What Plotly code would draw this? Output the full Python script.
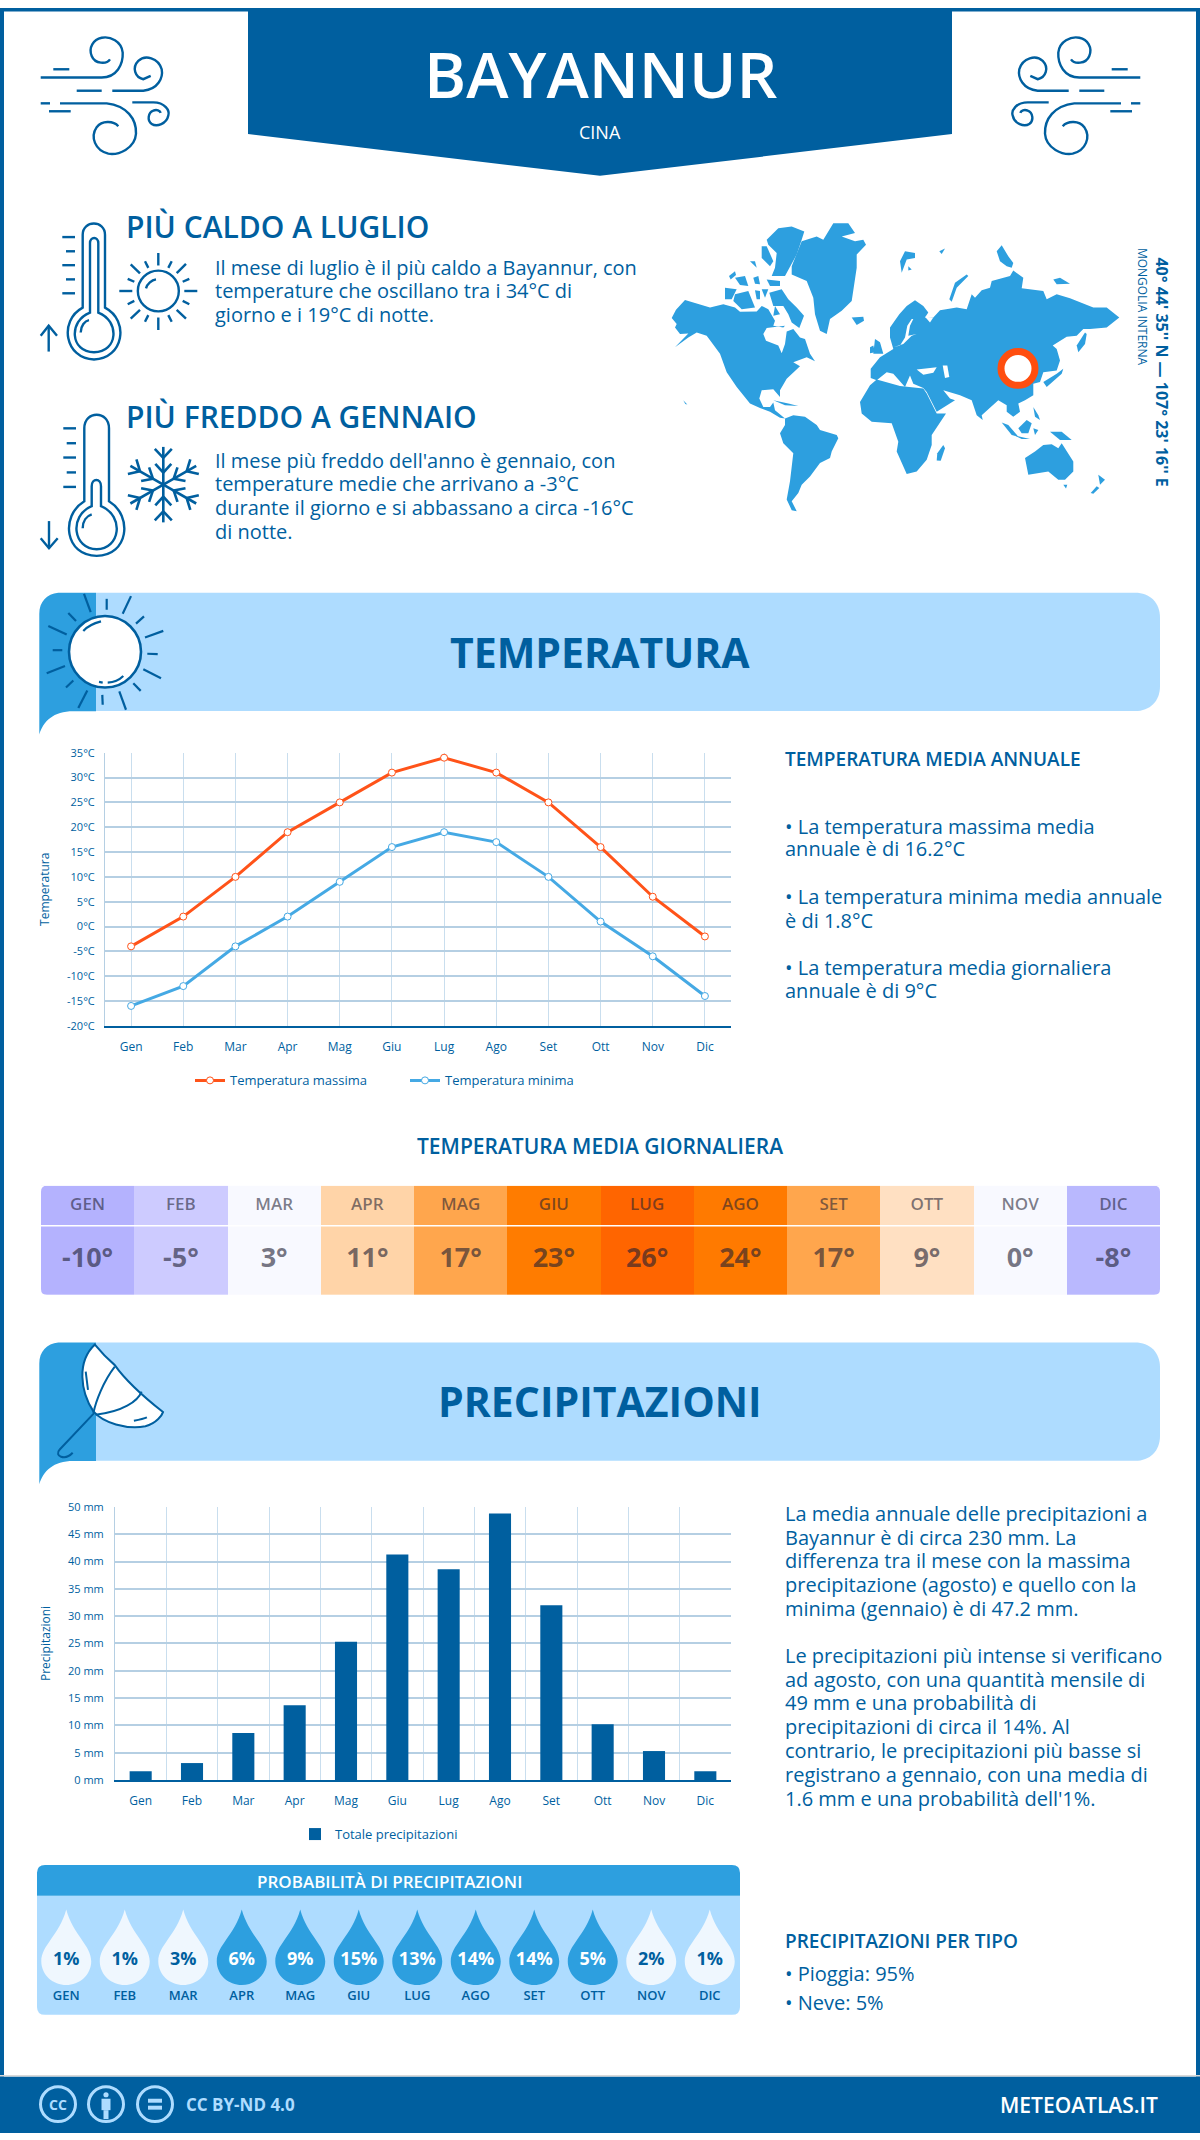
import math
import plotly.graph_objects as go

# ---------- data ----------
months = ["Gen", "Feb", "Mar", "Apr", "Mag", "Giu", "Lug", "Ago", "Set", "Ott", "Nov", "Dic"]
months_upper = ["GEN", "FEB", "MAR", "APR", "MAG", "GIU", "LUG", "AGO", "SET", "OTT", "NOV", "DIC"]
temp_max = [-4, 2, 10, 19, 25, 31, 34, 31, 25, 16, 6, -2]
temp_min = [-16, -12, -4, 2, 9, 16, 19, 17, 10, 1, -6, -14]
temp_avg = [-10, -5, 3, 11, 17, 23, 26, 24, 17, 9, 0, -8]
precip = [1.6, 3.1, 8.6, 13.7, 25.3, 41.3, 38.6, 48.8, 32.0, 10.2, 5.3, 1.6]
precip_prob = [1, 1, 3, 6, 9, 15, 13, 14, 14, 5, 2, 1]
temp_ticks = [-20, -15, -10, -5, 0, 5, 10, 15, 20, 25, 30, 35]
temp_tick_labels = ["-20°C", "-15°C", "-10°C", "-5°C", "0°C", "5°C", "10°C", "15°C", "20°C", "25°C", "30°C", "35°C"]
precip_ticks = [0, 5, 10, 15, 20, 25, 30, 35, 40, 45, 50]
precip_tick_labels = ["0 mm", "5 mm", "10 mm", "15 mm", "20 mm", "25 mm", "30 mm", "35 mm", "40 mm", "45 mm", "50 mm"]
avg_scale_values = [-10, -8, -5, 0, 3, 9, 11, 17, 23, 24, 26]
avg_scale_colors = ["#b4b2fe", "#b9b8fe", "#cdcbff", "#f8f9ff", "#f8f9ff", "#ffe0c2", "#ffd4a8",
                    "#ffa64d", "#ff7c00", "#ff7a00", "#ff6500"]

BLUE = "#005f9f"
MID = "#2d9fdf"
LIGHT = "#aedcff"
W, H = 1200, 2140
FONT = "Open Sans"

shapes, annos = [], []


def rect(x0, y0, x1, y1, color, layer="below"):
    shapes.append(dict(type="rect", xref="x", yref="y", x0=x0, y0=y0, x1=x1, y1=y1,
                       fillcolor=color, line=dict(width=0), layer=layer))


def path(d, fill=None, stroke=None, width=2.4, layer="above"):
    s = dict(type="path", xref="x", yref="y", path=d, layer=layer)
    s["fillcolor"] = fill if fill else "rgba(0,0,0,0)"
    s["line"] = dict(color=stroke, width=width) if stroke else dict(width=0)
    shapes.append(s)


def circle(cx, cy, r, fill=None, stroke=None, width=2.4, layer="above"):
    s = dict(type="circle", xref="x", yref="y", x0=cx - r, x1=cx + r, y0=cy - r, y1=cy + r, layer=layer)
    s["fillcolor"] = fill if fill else "rgba(0,0,0,0)"
    s["line"] = dict(color=stroke, width=width) if stroke else dict(width=0)
    shapes.append(s)


def text(x, base, s, size, color=BLUE, weight=400, anchor="left", angle=0):
    dy = 0.36 * size if angle == 0 else 0
    annos.append(dict(xref="x", yref="y", x=x, y=base - dy, text=s, showarrow=False, xanchor=anchor,
                      yanchor="middle", textangle=angle, borderpad=0, borderwidth=0,
                      font=dict(family=FONT, size=size, color=color, weight=weight)))


def zpath(ox, oy, sx, sy, d):
    """transform an SVG path written in crop coordinates into page coordinates"""
    out, pair = [], 0
    for tok in d.replace(",", " ").split():
        if tok.isalpha():
            out.append(tok)
            pair = 0
        else:
            v = float(tok)
            out.append(f"{ox + v / sx:.1f}" if pair % 2 == 0 else f"{oy + v / sy:.1f}")
            pair += 1
    return " ".join(out)


# ---------- frame and header ----------
rect(0, 0, 4, H, BLUE)
rect(W - 4, 0, W, H, BLUE)
rect(0, 0, W, 3.5, BLUE)
path("M 248 0 L 952 0 L 952 127 L 600 169 L 248 127 Z", fill=BLUE, layer="below")
text(600, 89, "BAYANNUR", 64, "white", 600, "center")
text(600, 131, "CINA", 18, "white", 400, "center")

wind = [
    "M 32 150 L 215 150 C 260 150 280 110 278 75 C 275 40 240 25 215 30 C 190 35 175 60 185 85 C 195 110 230 110 240 95",
    "M 70 125 L 118 125", "M 140 190 L 215 190",
    "M 247 190 L 340 190 C 385 185 400 150 395 125 C 385 90 345 80 325 100 C 305 120 315 150 340 155 L 362 145",
    "M 32 228 L 60 228",
    "M 90 228 L 230 228 C 290 235 320 275 318 320 C 315 365 265 385 235 380 C 195 370 180 330 200 300 C 215 280 250 280 265 297",
    "M 57 252 L 122 252",
    "M 307 225 L 370 225 C 405 225 420 250 415 265 C 410 290 380 300 365 290 C 350 280 355 255 370 250 C 380 245 390 250 392 257",
]
for d in wind:
    path(zpath(30, 20, 3, 3, d), stroke=BLUE)
    path(zpath(1151, 20, -3, 3, d), stroke=BLUE)

# ---------- hot / cold blocks ----------
hot = [
    "M 158 290 L 158 70 C 158 25 225 25 225 70 L 225 290 C 300 330 280 445 192 447 C 105 445 85 330 158 290 Z",
    "M 180 305 L 180 95 C 180 75 205 75 205 95 L 205 305 C 270 330 265 425 192 425 C 120 425 115 330 180 305 Z",
    "M 152 365 C 152 345 165 330 177 328",
    "M 97 77 L 135 77", "M 108 120 L 135 120", "M 97 162 L 135 162", "M 108 205 L 135 205", "M 97 247 L 135 247",
    "M 56 423 L 56 345", "M 32 375 L 56 345 L 81 375",
    "M 385 125 L 385 163", "M 385 320 L 385 358", "M 268 240 L 307 240", "M 463 240 L 502 240",
    "M 302 160 L 330 187", "M 468 158 L 440 186", "M 302 323 L 330 297", "M 468 323 L 440 297",
    "M 345 150 L 355 170", "M 425 150 L 415 170", "M 293 203 L 313 212", "M 478 203 L 458 212",
    "M 293 280 L 313 270", "M 478 280 L 458 270", "M 345 333 L 355 313", "M 425 333 L 415 313",
    "M 348 232 C 352 218 365 207 378 205",
]
for d in hot:
    path(zpath(30, 205, 3, 3, d), stroke=BLUE)
circle(30 + 385 / 3, 205 + 240 / 3, 20.5, stroke=BLUE)

cold = [
    "M 163 290 L 163 70 C 163 15 237 15 237 70 L 237 290 C 310 335 295 455 200 455 C 105 455 90 335 163 290 Z",
    "M 185 305 L 185 245 C 185 220 213 220 213 245 L 213 305 C 285 335 270 435 200 435 C 130 435 115 335 185 305 Z",
    "M 158 372 C 158 350 170 335 185 330",
    "M 100 70 L 138 70", "M 110 115 L 138 115", "M 100 158 L 138 158", "M 110 203 L 138 203", "M 100 247 L 138 247",
    "M 57 350 L 57 432", "M 32 402 L 57 432 L 83 402",
]
for d in cold:
    path(zpath(30, 400, 3, 3, d), stroke=BLUE)
fx, fy = 30 + 400 / 3, 400 + 240 / 3
for k in range(6):
    a = math.radians(90 + 60 * k)
    ux, uy = math.cos(a), -math.sin(a)
    vx, vy = -uy, ux
    pts = [(0, 0, 38, 0), (27, 0, 36, 8.5), (27, 0, 36, -8.5), (12, 0, 21, 8), (12, 0, 21, -8)]
    for r0, s0, r1, s1 in pts:
        path(f"M {fx + ux * r0 + vx * s0:.1f} {fy + uy * r0 + vy * s0:.1f} "
             f"L {fx + ux * r1 + vx * s1:.1f} {fy + uy * r1 + vy * s1:.1f}", stroke=BLUE, width=2.6)

text(126, 231, "PIÙ CALDO A LUGLIO", 30, BLUE, 600)
for b, s in zip([269, 292, 316], ["Il mese di luglio è il più caldo a Bayannur, con",
                                  "temperature che oscillano tra i 34°C di",
                                  "giorno e i 19°C di notte."]):
    text(215, b, s, 20)
text(126, 422, "PIÙ FREDDO A GENNAIO", 30, BLUE, 600)
for b, s in zip([463, 486, 510, 534], ["Il mese più freddo dell'anno è gennaio, con",
                                       "temperature medie che arrivano a -3°C",
                                       "durante il giorno e si abbassano a circa -16°C",
                                       "di notte."]):
    text(215, b, s, 20)

# ---------- world map outline (decoration) ----------
Z9 = (660, 205)
Z10 = (900, 205)
Z11 = (660, 360)


def poly(origin, pts, fill=MID):
    ox, oy = origin
    d = "M " + " L ".join(f"{ox + a / 3:.1f} {oy + b / 3:.1f}" for a, b in pts) + " Z"
    path(d, fill=fill, layer="below")


def abs9(p):
    return (Z9[0] + p[0] / 3, Z9[1] + p[1] / 3)


def abs10(p):
    return (Z10[0] + p[0] / 3, Z10[1] + p[1] / 3)


def abs11(p):
    return (Z11[0] + p[0] / 3, Z11[1] + p[1] / 3)


def poly_abs(pts, fill=MID):
    d = "M " + " L ".join(f"{a:.1f} {b:.1f}" for a, b in pts) + " Z"
    path(d, fill=fill, layer="below")


north_america = [abs9(p) for p in [
    (35, 322), (48, 297), (75, 267), (150, 290), (190, 280), (225, 290), (240, 303), (290, 302), (305, 285),
    (325, 295), (345, 330), (340, 345), (370, 350), (375, 345), (320, 352), (310, 370), (318, 390), (355, 405),
    (365, 428), (375, 400), (380, 362), (400, 355), (420, 380), (435, 385), (450, 430), (465, 452), (440, 440),
    (400, 455), (425, 470)]]
north_america += [abs11(p) for p in [
    (420, 2), (380, 40), (360, 75), (360, 95), (340, 72), (305, 75), (298, 100), (310, 125), (330, 125), (340, 112),
    (345, 135), (375, 160), (360, 158), (330, 140), (300, 128), (270, 115), (230, 65), (200, 20)]]
north_america += [abs9(p) for p in [(180, 430), (140, 375), (110, 365), (85, 380), (45, 410), (85, 368), (60, 370),
                                    (45, 350), (50, 340)]]
poly_abs(north_america)
poly(Z11, [(375, 160), (400, 150), (435, 155), (470, 180), (480, 195), (530, 210), (535, 220), (515, 260), (510, 280),
           (480, 295), (450, 335), (425, 360), (415, 385), (395, 410), (410, 440), (395, 437), (380, 405), (390, 350),
           (400, 265), (370, 235), (360, 205), (375, 180)])
poly(Z11, [(630, 60), (650, 42), (720, 62), (790, 70), (800, 85), (830, 145), (858, 145), (815, 210), (815, 240),
           (800, 285), (770, 320), (740, 328), (710, 260), (715, 230), (695, 175), (635, 170), (605, 145), (600, 110)])
poly(Z11, [(850, 240), (855, 250), (842, 288), (830, 287), (832, 265)])
eurasia = [abs11(p) for p in [(632, 38), (632, 10)]]
eurasia += [abs9(p) for p in [(660, 440), (700, 415), (690, 380), (690, 350), (718, 310)]]
eurasia += [abs10(p) for p in [
    (20, 285), (45, 268), (70, 285), (85, 305), (75, 320), (100, 320), (120, 298), (170, 290), (200, 295), (215, 250),
    (225, 260), (245, 238), (270, 230), (275, 210), (330, 195), (340, 178), (370, 200), (365, 232), (430, 240),
    (440, 265), (470, 250), (510, 262), (580, 290), (620, 290), (658, 320), (620, 350), (570, 355), (550, 355),
    (530, 375), (500, 378), (458, 405), (470, 415), (480, 450), (470, 480)]]
eurasia += [abs11(p) for p in [
    (1150, 20), (1140, 50), (1120, 55), (1120, 90), (1095, 105), (1075, 115), (1080, 140), (1060, 155), (1040, 140),
    (1040, 120), (1015, 105), (965, 150), (968, 165), (950, 150), (935, 105), (900, 90), (850, 75), (870, 100),
    (885, 105), (830, 140), (800, 80), (790, 68), (760, 55), (750, 30), (735, 65), (700, 25), (680, 20), (650, 45)]]
poly_abs(eurasia)
# inner seas
poly(Z11, [(770, 12), (830, 5), (820, 22), (790, 28)], "white")
poly(Z11, [(848, 0), (862, 0), (868, 35), (855, 38)], "white")
poly(Z10, [(35, 325), (22, 345), (15, 380), (0, 405), (-20, 410), (10, 400), (35, 375), (50, 370), (25, 375), (30, 345),
           (40, 325)], "white")
poly(Z10, [(75, 318), (90, 335), (100, 320)], "white")
islands9 = [
    [(395, 165), (425, 90), (470, 75), (490, 85), (520, 35), (565, 35), (585, 65), (545, 75), (585, 90), (610, 85),
     (618, 100), (590, 130), (590, 170), (575, 270), (545, 300), (510, 325), (500, 370), (480, 360), (465, 310),
     (460, 260), (440, 210), (395, 190)],
    [(575, 320), (610, 318), (612, 330), (590, 343)],
    [(320, 85), (355, 50), (395, 45), (433, 60), (425, 85), (410, 130), (375, 195), (335, 195), (345, 170), (350, 125),
     (325, 100)],
    [(305, 105), (320, 105), (340, 150), (330, 165), (305, 140)],
    [(207, 195), (225, 180), (228, 192), (212, 205)], [(225, 200), (255, 195), (265, 225), (240, 222)],
    [(280, 200), (295, 195), (300, 220), (285, 218)], [(320, 205), (360, 210), (360, 225), (330, 225)],
    [(270, 150), (285, 150), (290, 170)], [(195, 230), (230, 235), (215, 265), (195, 265)],
    [(225, 250), (265, 240), (285, 290), (245, 295), (220, 270)], [(285, 238), (300, 240), (300, 265), (290, 265)],
    [(305, 235), (325, 235), (315, 260)],
    [(328, 245), (365, 235), (385, 265), (410, 290), (432, 315), (418, 352), (395, 335), (385, 310), (370, 285),
     (340, 285)],
    [(345, 285), (360, 310), (340, 315)],
    [(645, 385), (660, 395), (670, 430), (640, 430)], [(630, 410), (640, 405), (645, 425), (630, 428)],
]
for p in islands9:
    poly(Z9, p)
islands10 = [
    [(148, 265), (165, 215), (200, 190), (205, 195), (170, 230), (155, 272)],
    [(0, 150), (15, 120), (45, 125), (45, 140), (20, 145), (5, 185)],
    [(290, 120), (305, 102), (325, 135), (340, 155), (335, 170), (320, 165), (300, 150)],
    [(460, 205), (480, 200), (510, 218), (470, 220)], [(118, 120), (135, 112), (125, 128)],
    [(25, 165), (35, 175), (25, 178)], [(530, 405), (555, 365), (560, 370), (555, 400), (535, 425)],
]
for p in islands10:
    poly(Z10, p)
islands11 = [
    [(1095, 280), (1125, 260), (1150, 240), (1175, 238), (1195, 250), (1205, 235), (1240, 290), (1240, 320), (1215, 345),
     (1195, 345), (1165, 320), (1105, 330)],
    [(1210, 360), (1222, 360), (1218, 372)], [(1315, 330), (1335, 345), (1320, 360)],
    [(1310, 365), (1318, 370), (1300, 388), (1292, 385)],
    [(1025, 172), (1045, 180), (1075, 215), (1055, 210)], [(1060, 210), (1110, 222), (1085, 222)],
    [(1075, 190), (1100, 165), (1115, 175), (1105, 205), (1085, 205)], [(1120, 190), (1135, 195), (1125, 210)],
    [(1170, 200), (1205, 200), (1235, 225), (1200, 225)], [(1120, 125), (1135, 150), (1140, 165), (1125, 155)],
    [(1150, 50), (1190, 25), (1210, 10), (1205, 25), (1160, 65)],
    [(340, 105), (385, 115), (415, 122), (375, 120)], [(70, 105), (82, 118), (76, 116)],
]
for p in islands11:
    poly(Z11, p)
circle(1018, 363, 17, fill="white", stroke="#ff4e0f", width=7, layer="above")
text(1162, 0, "", 1) if False else None
annos.append(dict(xref="x", yref="y", x=1162, y=366, text="40° 44' 35'' N — 107° 23' 16'' E", showarrow=False,
                  textangle=90, font=dict(family=FONT, size=16, color=BLUE, weight=700)))
annos.append(dict(xref="x", yref="y", x=1142, y=301, text="MONGOLIA INTERNA", showarrow=False, textangle=90,
                  font=dict(family=FONT, size=12, color=BLUE, weight=400)))


# ---------- section banners ----------
def banner(dy, title, base):
    path(f"M 96 {589 + dy} L 1135 {589 + dy} C 1150 {589 + dy} 1160 {599 + dy} 1160 {614 + dy} L 1160 {683 + dy} "
         f"C 1160 {698 + dy} 1150 {708 + dy} 1135 {708 + dy} L 96 {708 + dy} Z", fill=LIGHT, layer="below")
    path(zpath(30, 580 + dy, 3, 3, "M 198 27 L 85 27 C 50 30 28 55 28 90 L 28 455 C 40 415 70 385 130 385 L 198 385 Z"),
         fill=MID, layer="below")
    text(600, base, title, 41, BLUE, 700, "center")


banner(0, "TEMPERATURA", 663)
banner(755, "PRECIPITAZIONI", 1418)
circle(30 + 225 / 3, 580 + 205 / 3, 36, fill="white", stroke=BLUE, width=2.6)
for d in ["M 162 30 L 182 85", "M 115 88 L 138 112", "M 55 127 L 110 153", "M 68 200 L 97 200", "M 50 270 L 105 248",
          "M 108 313 L 130 292", "M 145 375 L 172 322", "M 217 335 L 218 365", "M 268 325 L 288 380",
          "M 310 300 L 332 323", "M 340 258 L 393 285", "M 352 211 L 383 212", "M 345 162 L 400 142",
          "M 318 120 L 342 98", "M 278 90 L 303 37", "M 230 45 L 230 78",
          "M 160 142 C 175 125 195 118 213 113", "M 233 298 C 250 297 268 290 280 278", "M 207 296 L 218 298"]:
    path(zpath(30, 580, 3, 3, d), stroke=BLUE, width=2.2)
ux, uy = 1.3067, 3
path(zpath(0, 1100, ux, uy, "M 124 738 C 100 790 105 880 122 940 C 135 975 165 995 190 985 C 205 975 212 950 213 942 "
                            "C 190 900 165 850 150 800 C 140 780 130 755 124 738 Z"), fill="white", stroke=BLUE, width=2)
for d in ["M 150 805 C 135 850 125 910 122 945", "M 185 880 C 180 910 160 940 125 950",
          "M 123 945 L 78 1055 C 70 1075 85 1090 95 1065", "M 112 820 L 115 875", "M 175 968 C 182 965 188 962 192 958"]:
    path(zpath(0, 1100, ux, uy, d), stroke=BLUE, width=2)

# ---------- right column texts ----------
text(785, 763, "TEMPERATURA MEDIA ANNUALE", 19, BLUE, 600)
for b, s in zip([831, 854, 902, 926, 973, 997],
                ["• La temperatura massima media", "annuale è di 16.2°C",
                 "• La temperatura minima media annuale", "è di 1.8°C",
                 "• La temperatura media giornaliera", "annuale è di 9°C"]):
    text(785, b, s, 20)
text(600, 1154, "TEMPERATURA MEDIA GIORNALIERA", 21, BLUE, 600, "center")
for b, s in zip([1523, 1547, 1571, 1595, 1619, 1666, 1690, 1714, 1738, 1762, 1786, 1810],
                ["La media annuale delle precipitazioni a", "Bayannur è di circa 230 mm. La",
                 "differenza tra il mese con la massima", "precipitazione (agosto) e quello con la",
                 "minima (gennaio) è di 47.2 mm.",
                 "Le precipitazioni più intense si verificano", "ad agosto, con una quantità mensile di",
                 "49 mm e una probabilità di", "precipitazioni di circa il 14%. Al",
                 "contrario, le precipitazioni più basse si", "registrano a gennaio, con una media di",
                 "1.6 mm e una probabilità dell'1%."]):
    text(785, b, s, 20)
text(785, 1953, "PRECIPITAZIONI PER TIPO", 19, BLUE, 600)
text(785, 1987, "• Pioggia: 95%", 20)
text(785, 2016, "• Neve: 5%", 20)


# ---------- probability block ----------
def round_top(x0, y0, x1, y1, r, c):
    path(f"M {x0} {y1} L {x0} {y0 + r} Q {x0} {y0} {x0 + r} {y0} L {x1 - r} {y0} Q {x1} {y0} {x1} {y0 + r} L {x1} {y1} Z",
         fill=c, layer="below")


path("M 37 1901 L 740 1901 L 740 2013 Q 740 2021 732 2021 L 45 2021 Q 37 2021 37 2013 Z", fill=LIGHT, layer="below")
round_top(37, 1870, 740, 1901, 8, MID)
text(389, 1893, "PROBABILITÀ DI PRECIPITAZIONI", 17, "white", 600, "center")

# ---------- footer ----------
rect(0, 2083, W, H, BLUE)
rect(0, 2081.5, W, 2083, "#d9d9d9")
for cx in (58, 106, 155):
    circle(cx, 2111, 17.5, stroke=LIGHT, width=3)
text(58, 2116, "CC", 14, LIGHT, 700, "center")
circle(106, 2101.5, 2.6, fill=LIGHT)
rect(101.5, 2105.5, 110.5, 2117, LIGHT, "above")
rect(103.5, 2117, 108.5, 2126, LIGHT, "above")
rect(148, 2105.5, 162, 2109.5, LIGHT, "above")
rect(148, 2112.5, 162, 2116.5, LIGHT, "above")
text(186, 2117, "CC BY-ND 4.0", 17, LIGHT, 700)
text(1158, 2119, "METEOATLAS.IT", 21, "white", 600, "right")


# ---------- figure ----------
def xd(a, b):
    return [a / W, b / W]


def yd(top, bottom):
    return [(H - bottom) / H, (H - top) / H]


fig = go.Figure()
# page layer: pixels
fig.add_trace(go.Scatter(x=[0], y=[0], mode="markers", marker=dict(size=1, color="rgba(0,0,0,0)"),
                         showlegend=False, hoverinfo="skip"))

# temperature chart
marker_common = dict(size=7, color="white")
fig.add_trace(go.Scatter(x=months, y=temp_max, name="Temperatura massima", xaxis="x2", yaxis="y2", mode="lines+markers",
                         line=dict(color="#ff5319", width=3), marker=dict(line=dict(color="#ff5319", width=1), **marker_common)))
fig.add_trace(go.Scatter(x=months, y=temp_min, name="Temperatura minima", xaxis="x2", yaxis="y2", mode="lines+markers",
                         line=dict(color="#45a9e4", width=3), marker=dict(line=dict(color="#45a9e4", width=1), **marker_common)))

# precipitation chart
fig.add_trace(go.Bar(x=list(range(12)), y=precip, name="Totale precipitazioni", xaxis="x3", yaxis="y3", legend="legend2",
                     marker=dict(color=BLUE, line=dict(width=0)), width=0.43))

# average temperature table
zmin, zmax = min(avg_scale_values), max(avg_scale_values)
colorscale = [[(v - zmin) / (zmax - zmin), c] for v, c in zip(avg_scale_values, avg_scale_colors)]
fig.add_trace(go.Heatmap(x=list(range(12)), y=[0, 40, 110], z=[temp_avg, temp_avg], xaxis="x4", yaxis="y4",
                         colorscale=colorscale, zmin=zmin, zmax=zmax, showscale=False, hoverinfo="skip"))
fig.add_trace(go.Scatter(x=list(range(12)), y=[20] * 12, text=months_upper, mode="text", xaxis="x4", yaxis="y4",
                         textfont=dict(family=FONT, size=17, color="rgba(30,30,50,0.58)", weight=600), showlegend=False))
fig.add_trace(go.Scatter(x=list(range(12)), y=[75] * 12, text=[f"{v}°" for v in temp_avg], mode="text", xaxis="x4", yaxis="y4",
                         textfont=dict(family=FONT, size=27, color="rgba(30,30,50,0.62)", weight=700), showlegend=False))
# table separators and corners
TY0, TY1 = 1186, 1296
rect(41, 1225.5, 1160, 1227, "white", "above")
for cxs, cys, sx, sy in [(41, TY0, 1, 1), (1160, TY0, -1, 1), (41, TY1, 1, -1), (1160, TY1, -1, -1)]:
    path(f"M {cxs} {cys} L {cxs + 6 * sx} {cys} Q {cxs} {cys} {cxs} {cys + 6 * sy} Z", fill="white")

# rain drops
DTOP = 14
for i, v in enumerate(precip_prob):
    fill = MID if v >= 5 else "#eff7fe"
    h = 0.427
    t = DTOP
    d = (f"M {i} {t} C {i + 0.12} {t + 26} {i + h} {t + 36} {i + h} {t + 52} "
         f"C {i + h} {t + 66} {i + 0.22} {t + 76} {i} {t + 76} "
         f"C {i - 0.22} {t + 76} {i - h} {t + 66} {i - h} {t + 52} "
         f"C {i - h} {t + 36} {i - 0.12} {t + 26} {i} {t} Z")
    shapes.append(dict(type="path", xref="x5", yref="y5", path=d, fillcolor=fill, line=dict(width=0), layer="below"))
fig.add_trace(go.Scatter(x=list(range(12)), y=[65.5] * 12, text=[f"{v}%" for v in precip_prob], mode="text", xaxis="x5", yaxis="y5",
                         textfont=dict(family=FONT, size=18, weight=700,
                                       color=["white" if v >= 5 else BLUE for v in precip_prob]), showlegend=False))
fig.add_trace(go.Scatter(x=list(range(12)), y=[101.5] * 12, text=months_upper, mode="text", xaxis="x5", yaxis="y5",
                         textfont=dict(family=FONT, size=13, weight=600, color=BLUE), showlegend=False))

GRID_H = "#b5cfe3"
GRID_V = "#c9deee"
tick_font = dict(family=FONT, size=11, color=BLUE)
month_font = dict(family=FONT, size=12, color=BLUE)
hidden = dict(visible=False, fixedrange=True)

fig.update_layout(
    width=W, height=H, margin=dict(l=0, r=0, t=0, b=0), paper_bgcolor="white", plot_bgcolor="rgba(0,0,0,0)",
    font=dict(family=FONT, color=BLUE), shapes=shapes, annotations=annos, hovermode=False,
    xaxis=dict(domain=[0, 1], range=[0, W], anchor="y", **hidden),
    yaxis=dict(domain=[0, 1], range=[H, 0], anchor="x", **hidden),
    xaxis2=dict(domain=xd(105, 731), anchor="y2", type="category", categoryorder="array", categoryarray=months,
                range=[-0.5, 11.5], showgrid=True, gridcolor=GRID_V, gridwidth=1, showline=True, linecolor=BLUE, linewidth=2,
                ticks="outside", ticklen=9, tickcolor="rgba(0,0,0,0)", tickfont=month_font, fixedrange=True),
    yaxis2=dict(domain=yd(750, 1025), anchor="x2", range=[-20, 35], tickvals=temp_ticks, ticktext=temp_tick_labels,
                showgrid=True, gridcolor=GRID_H, gridwidth=1.5, zeroline=False, showline=True, linecolor=GRID_H, linewidth=1,
                ticks="outside", ticklen=7, tickcolor="rgba(0,0,0,0)", tickfont=tick_font, fixedrange=True,
                title=dict(text="Temperatura", font=dict(family=FONT, size=12, color=BLUE), standoff=14)),
    xaxis3=dict(domain=xd(115, 731), anchor="y3", range=[-0.5, 11.5], tickvals=list(range(12)), ticktext=months,
                showgrid=False, showline=True, linecolor=BLUE, linewidth=2, zeroline=False,
                minor=dict(tickvals=[i + 0.5 for i in range(11)], showgrid=True, gridcolor=GRID_V, gridwidth=1, ticklen=0),
                ticks="outside", ticklen=9, tickcolor="rgba(0,0,0,0)", tickfont=month_font, fixedrange=True),
    yaxis3=dict(domain=yd(1509.5, 1784.5), anchor="x3", range=[0, 50], tickvals=precip_ticks, ticktext=precip_tick_labels,
                showgrid=True, gridcolor=GRID_H, gridwidth=1.5, zeroline=False, showline=True, linecolor=GRID_H, linewidth=1,
                ticks="outside", ticklen=8, tickcolor="rgba(0,0,0,0)", tickfont=tick_font, fixedrange=True,
                title=dict(text="Precipitazioni", font=dict(family=FONT, size=12, color=BLUE), standoff=14)),
    xaxis4=dict(domain=xd(41, 1160), anchor="y4", range=[-0.5, 11.5], **hidden),
    yaxis4=dict(domain=yd(TY0, TY1), anchor="x4", range=[110, 0], **hidden),
    xaxis5=dict(domain=xd(37, 739), anchor="y5", range=[-0.5, 11.5], **hidden),
    yaxis5=dict(domain=yd(1901, 2021), anchor="x5", range=[120, 0], **hidden),
    legend=dict(orientation="h", x=190 / W, y=(H - 1080) / H, xanchor="left", yanchor="middle", itemwidth=30,
                entrywidth=170, entrywidthmode="pixels", font=dict(family=FONT, size=13, color=BLUE),
                bgcolor="rgba(0,0,0,0)", itemclick=False, itemdoubleclick=False),
    legend2=dict(orientation="h", x=295 / W, y=(H - 1839) / H, xanchor="left", yanchor="middle",
                 font=dict(family=FONT, size=13, color=BLUE), bgcolor="rgba(0,0,0,0)", itemclick=False, itemdoubleclick=False),
)

fig.write_html("out.html", config=dict(displayModeBar=False, responsive=False),
               post_script="document.body.style.margin='0';document.documentElement.style.overflow='hidden';")
